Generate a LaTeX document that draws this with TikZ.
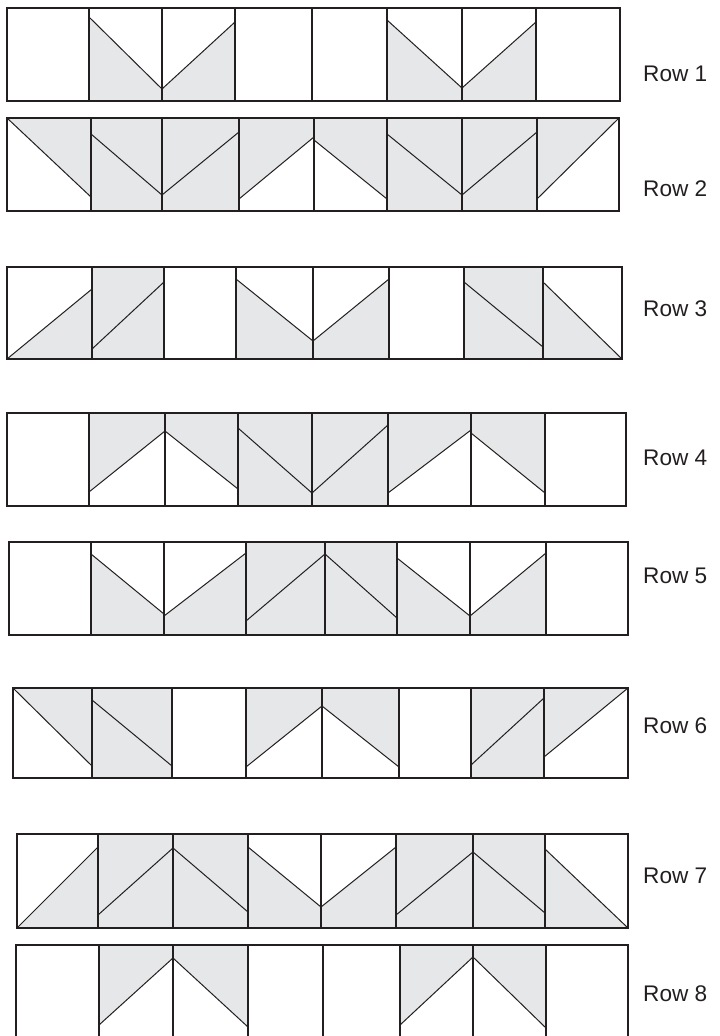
\documentclass[tikz,border=0pt]{standalone}
\usepackage{fontspec}
\setmainfont{Liberation Sans}
\definecolor{qgray}{HTML}{E6E7E8}
\definecolor{qline}{HTML}{231F20}
\tikzset{
  cell/.style={draw=qline, line width=1.1pt, line join=miter},
  diag/.style={draw=qline, line width=1pt},
  rowlabel/.style={anchor=base west, inner sep=0pt, font=\fontsize{22.6}{26}\selectfont, text=qline}
}
% x1 x2 ytop ybot yleft yright
\newcommand\qblank[4]{\draw[cell] (#1,#3) rectangle (#2,#4);}
\newcommand\qfull[6]{\fill[qgray] (#1,#3) rectangle (#2,#4);
  \draw[diag] (#1,#5) -- (#2,#6);
  \draw[cell] (#1,#3) rectangle (#2,#4);}
\newcommand\qbelow[6]{\fill[qgray] (#1,#5) -- (#2,#6) -- (#2,#4) -- (#1,#4) -- cycle;
  \draw[diag] (#1,#5) -- (#2,#6);
  \draw[cell] (#1,#3) rectangle (#2,#4);}
\newcommand\qabove[6]{\fill[qgray] (#1,#5) -- (#2,#6) -- (#2,#3) -- (#1,#3) -- cycle;
  \draw[diag] (#1,#5) -- (#2,#6);
  \draw[cell] (#1,#3) rectangle (#2,#4);}
\begin{document}
\begin{tikzpicture}[x=1pt,y=-1pt]
\useasboundingbox (0,0) rectangle (720,1036);
% Row 1
\qblank{7}{89}{8}{101}
\qbelow{89}{162}{8}{101}{17}{89}
\qbelow{162}{235}{8}{101}{89}{22}
\qblank{235}{312}{8}{101}
\qblank{312}{387}{8}{101}
\qbelow{387}{462}{8}{101}{20}{88}
\qbelow{462}{536}{8}{101}{88}{22}
\qblank{536}{620}{8}{101}
% Row 2
\qabove{7}{91}{118}{211}{118}{197}
\qfull{91}{162}{118}{211}{134}{195}
\qfull{162}{239}{118}{211}{195}{132}
\qabove{239}{314}{118}{211}{199}{137}
\qabove{314}{387}{118}{211}{140}{199}
\qfull{387}{462}{118}{211}{134}{195}
\qfull{462}{537}{118}{211}{195}{132}
\qabove{537}{619}{118}{211}{199}{118}
% Row 3
\qbelow{7}{92}{267}{359}{359}{289}
\qfull{92}{164}{267}{359}{349}{282}
\qblank{164}{236}{267}{359}
\qbelow{236}{313}{267}{359}{279}{341}
\qbelow{313}{389}{267}{359}{341}{279}
\qblank{389}{464}{267}{359}
\qfull{464}{543}{267}{359}{282}{347}
\qbelow{543}{622}{267}{359}{282}{359}
% Row 4
\qblank{7}{89}{413}{506}
\qabove{89}{165}{413}{506}{492}{431}
\qabove{165}{238}{413}{506}{431}{489}
\qfull{238}{312}{413}{506}{428}{493}
\qfull{312}{388}{413}{506}{493}{425}
\qabove{388}{471}{413}{506}{493}{430}
\qabove{471}{545}{413}{506}{433}{493}
\qblank{545}{626}{413}{506}
% Row 5
\qblank{9}{91}{542}{635}
\qbelow{91}{164}{542}{635}{554}{614}
\qbelow{164}{246}{542}{635}{616}{553}
\qfull{246}{325}{542}{635}{621}{554}
\qfull{325}{397}{542}{635}{554}{618}
\qbelow{397}{470}{542}{635}{558}{616}
\qbelow{470}{546}{542}{635}{616}{553}
\qblank{546}{628}{542}{635}
% Row 6
\qabove{13}{92}{688}{778}{688}{766}
\qfull{92}{172}{688}{778}{700}{766}
\qblank{172}{246}{688}{778}
\qabove{246}{322}{688}{778}{767}{706}
\qabove{322}{399}{688}{778}{706}{767}
\qblank{399}{471}{688}{778}
\qfull{471}{544}{688}{778}{765}{698}
\qabove{544}{628}{688}{778}{757}{688}
% Row 7
\qbelow{17}{98}{834}{928}{928}{847}
\qfull{98}{173}{834}{928}{915}{848}
\qfull{173}{248}{834}{928}{848}{912}
\qbelow{248}{321}{834}{928}{847}{907}
\qbelow{321}{396}{834}{928}{907}{847}
\qfull{396}{473}{834}{928}{915}{852}
\qfull{473}{545}{834}{928}{852}{913}
\qbelow{545}{628}{834}{928}{849}{928}
% Row 8
\qblank{16}{99}{945}{1042}
\qabove{99}{173}{945}{1042}{1025}{958}
\qabove{173}{248}{945}{1042}{958}{1027}
\qblank{248}{323}{945}{1042}
\qblank{323}{400}{945}{1042}
\qabove{400}{473}{945}{1042}{1025}{957}
\qabove{473}{546}{945}{1042}{957}{1028}
\qblank{546}{628}{945}{1042}
% labels
\node[rowlabel] (lab1) at (643,81) {Row 1};
\node[rowlabel] (lab2) at (643,196) {Row 2};
\node[rowlabel] (lab3) at (643,316) {Row 3};
\node[rowlabel] (lab4) at (643,465) {Row 4};
\node[rowlabel] (lab5) at (643,583) {Row 5};
\node[rowlabel] (lab6) at (643,733) {Row 6};
\node[rowlabel] (lab7) at (643,883) {Row 7};
\node[rowlabel] (lab8) at (643,1001) {Row 8};
\end{tikzpicture}
\end{document}
